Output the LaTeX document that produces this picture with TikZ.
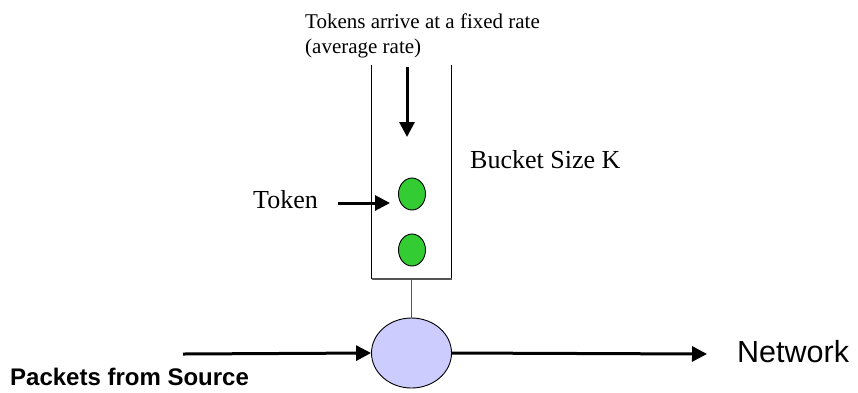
\documentclass[tikz,border=0pt]{standalone}
\usepackage{fontspec}
\setmainfont{Liberation Serif}
\newfontfamily\arialfont{Liberation Sans}
\usetikzlibrary{arrows.meta,shapes.geometric}
\definecolor{tokengreen}{HTML}{33CC33}
\definecolor{routerblue}{HTML}{CCCCFF}
\definecolor{stemgrey}{HTML}{555555}
\tikzset{
  flow/.style={line width=3pt,-{Triangle[length=15pt,width=15pt]}},
  tokenball/.style={ellipse,draw=black,line width=0.9pt,fill=tokengreen,
    minimum width=27pt,minimum height=32pt,inner sep=0pt},
  router/.style={ellipse,draw=black,line width=0.9pt,fill=routerblue,
    minimum width=80pt,minimum height=70pt,inner sep=0pt},
  wall/.style={line width=1pt,black},
  stem/.style={line width=1.6pt,stemgrey},
  label/.style={inner sep=0pt,anchor=base west}
}
\begin{document}
\begin{tikzpicture}[x=1pt,y=-1pt]
  \useasboundingbox (0,0) rectangle (858,392);

  % bucket walls and base
  \coordinate (bl) at (371.5,279);
  \coordinate (br) at (451.5,279);
  \draw[wall] (371.5,65) -- (bl);
  \draw[wall] (451.5,65) -- (br);
  \draw[stem] (bl) -- (br);
  \coordinate (bmid) at (411.5,279);

  % tokens inside the bucket
  \node[tokenball] (tok1) at (412,194) {};
  \node[tokenball] (tok2) at (412,250) {};

  % regulator
  \node[router] (reg) at (411.5,353) {};
  \draw[stem] (bmid) -- (reg.north);

  % labels
  \node[inner sep=0pt,anchor=north west,align=left,
        font=\fontsize{21}{25}\selectfont] (rate) at (305,14)
        {Tokens arrive at a fixed rate\\(average rate)};
  \node[label,font=\fontsize{26}{30}\selectfont] (bsize) at (470,168) {Bucket Size K};
  \node[label,font=\fontsize{26}{30}\selectfont] (toklab) at (253,208) {Token};
  \node[label,font=\arialfont\bfseries\fontsize{24}{28}\selectfont] (src) at (10,385) {Packets from Source};
  \node[label,font=\arialfont\fontsize{30.5}{35}\selectfont] (net) at (737,362) {Network};

  % arrows
  \coordinate (dropA) at (407,67);
  \coordinate (dropB) at (407,137);
  \draw[flow] (dropA) -- (dropB);
  \coordinate (tokA) at (338,203);
  \coordinate (tokB) at (390,203);
  \draw[flow] (tokA) -- (tokB);
  \coordinate (inA) at (183,354);
  \draw[flow] (inA) -- (reg.west);
  \coordinate (outB) at (707,354);
  \draw[flow] (reg.east) -- (outB);
\end{tikzpicture}
\end{document}
